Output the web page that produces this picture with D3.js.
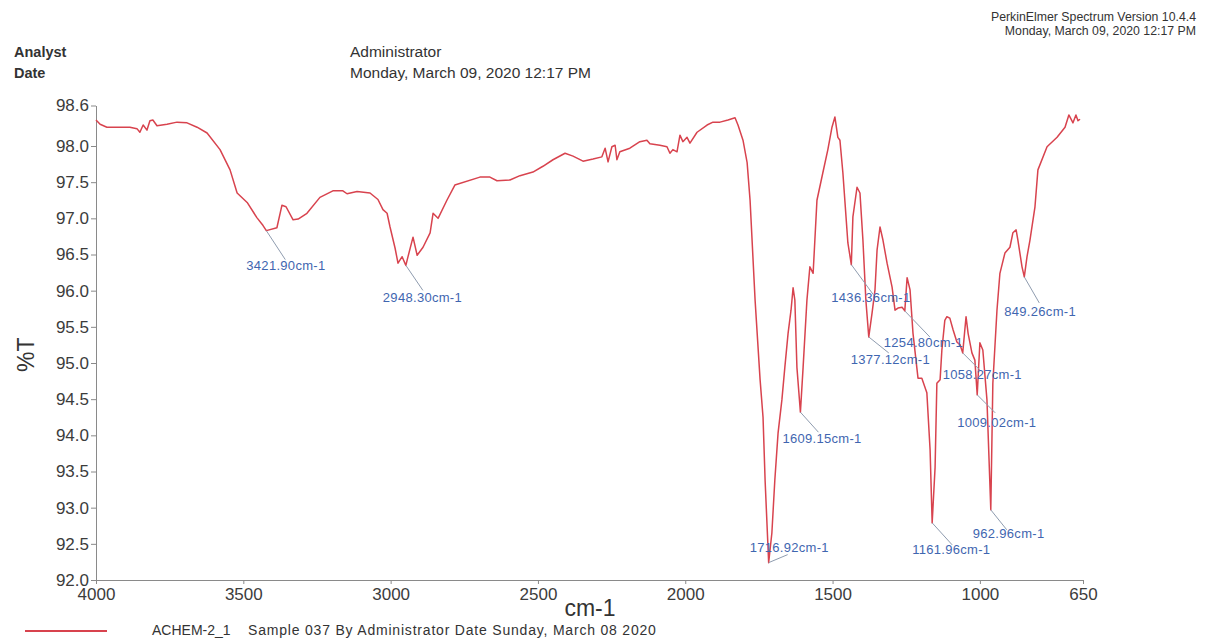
<!DOCTYPE html>
<html>
  <head>
    <meta charset="utf-8" />
    <title>IR Spectrum</title>
    <style>
      body {
        margin: 0;
        background: #fff;
      }
      svg text {
        font-family: "Liberation Sans", Arial, sans-serif;
      }
      .axis path,
      .axis line {
        stroke: #8a8a8a;
      }
      .axis text {
        fill: #3c3c3c;
        font-size: 17px;
      }
      .spectrum {
        fill: none;
        stroke: #d8434e;
        stroke-width: 1.5px;
        stroke-linejoin: round;
      }
      .peak-line {
        stroke: #8f9caf;
        stroke-width: 1px;
      }
      .peak-label {
        fill: #3f66b0;
        font-size: 13px;
        letter-spacing: 0.3px;
      }
    </style>
  </head>
  <body>
    <svg id="chart"></svg>

    <script src="https://d3js.org/d3.v7.min.js"></script>
    <script>
      // spectrum (cm-1, %T)
      const wavenumbers = [
        4000, 3986, 3963, 3885, 3861, 3851, 3840, 3827, 3817, 3807,
        3793, 3759, 3725, 3691, 3657, 3623, 3579, 3545, 3521, 3487,
        3454, 3433, 3421.9, 3386, 3369, 3355, 3331, 3314, 3284, 3240,
        3196, 3162, 3148, 3114, 3070, 3043, 3026, 3012, 3002, 2985,
        2975, 2961, 2948.3, 2941, 2924, 2910, 2890, 2866, 2856, 2839,
        2809, 2782, 2697, 2663, 2639, 2595, 2561, 2517, 2483, 2449,
        2408, 2381, 2347, 2313, 2283, 2272, 2262, 2249, 2238, 2232,
        2222, 2188, 2154, 2130, 2120, 2086, 2062, 2052, 2042, 2028,
        2018, 2008, 1994, 1984, 1960, 1926, 1906, 1882, 1855, 1831,
        1821, 1804, 1790, 1780, 1763, 1746, 1736, 1729, 1716.92, 1706,
        1696, 1685, 1672, 1662, 1651, 1641, 1634, 1628, 1621, 1609.15,
        1600, 1587, 1577, 1566, 1553, 1533, 1516, 1502, 1492, 1482,
        1475, 1465, 1448, 1436.36, 1431, 1417, 1407, 1397, 1387, 1377.12,
        1366, 1356, 1349, 1339, 1329, 1315, 1298, 1288, 1278, 1264,
        1254.8, 1247, 1237, 1227, 1210, 1197, 1180, 1169, 1161.96, 1152,
        1146, 1135, 1129, 1119, 1112, 1102, 1091, 1078, 1067, 1058.27,
        1047, 1040, 1027, 1017, 1009.02, 1000, 990, 976, 962.96, 956,
        942, 932, 915, 898, 888, 877, 871, 857, 849.26, 840,
        830, 813, 803, 772, 738, 711, 698, 684, 674, 667, 660
      ];
      const transmittance = [
        98.36, 98.30, 98.26, 98.26, 98.24, 98.19, 98.29, 98.22, 98.35, 98.36,
        98.28, 98.30, 98.33, 98.32, 98.26, 98.18, 97.95, 97.67, 97.35, 97.22,
        97.01, 96.90, 96.83, 96.87, 97.18, 97.16, 96.98, 96.99, 97.07, 97.29,
        97.38, 97.38, 97.34, 97.37, 97.35, 97.26, 97.12, 97.07, 96.88, 96.59,
        96.38, 96.47, 96.35, 96.47, 96.74, 96.49, 96.60, 96.80, 97.07, 97.00,
        97.25, 97.46, 97.57, 97.57, 97.52, 97.53, 97.59, 97.64, 97.72, 97.81,
        97.90, 97.86, 97.79, 97.82, 97.85, 97.97, 97.78, 97.99, 98.01, 97.81,
        97.92, 97.97, 98.06, 98.08, 98.03, 98.01, 97.99, 97.90, 97.95, 97.92,
        98.15, 98.06, 98.12, 98.04, 98.19, 98.29, 98.33, 98.33, 98.36, 98.39,
        98.29, 98.08, 97.77, 97.25, 95.87, 94.77, 94.25, 93.38, 92.24, 92.65,
        93.38, 94.03, 94.49, 94.94, 95.41, 95.73, 96.04, 95.87, 94.94, 94.32,
        94.94, 95.87, 96.33, 96.24, 97.25, 97.63, 97.95, 98.26, 98.40, 98.12,
        98.08, 97.63, 96.66, 96.36, 97.02, 97.43, 97.35, 96.70, 95.87, 95.36,
        95.69, 96.01, 96.56, 96.88, 96.70, 96.38, 96.05, 95.73, 95.76, 95.77,
        95.72, 96.18, 96.01, 95.41, 94.79, 94.79, 94.59, 93.80, 92.79, 93.56,
        94.72, 94.77, 95.18, 95.59, 95.64, 95.62, 95.46, 95.29, 95.25, 95.14,
        95.64, 95.41, 95.14, 95.04, 94.56, 95.28, 95.18, 94.49, 92.97, 94.72,
        95.73, 96.24, 96.52, 96.60, 96.80, 96.84, 96.70, 96.33, 96.19, 96.47,
        96.70, 97.16, 97.67, 97.99, 98.12, 98.26, 98.43, 98.32, 98.43, 98.35, 98.37
      ];

      // labelled peaks
      const peakWavenumbers = [
        3421.9, 2948.3, 1716.92, 1609.15, 1436.36, 1377.12,
        1254.8, 1161.96, 1058.27, 1009.02, 962.96, 849.26
      ];

      // axis ticks and text
      const xTickValues = [4000, 3500, 3000, 2500, 2000, 1500, 1000, 650];
      const yTickValues = [92.0, 92.5, 93.0, 93.5, 94.0, 94.5, 95.0, 95.5, 96.0, 96.5, 97.0, 97.5, 98.0, 98.56];
      const xTitle = "cm-1";
      const yTitle = "%T";
      const headerLeft = [["Analyst", "Administrator"], ["Date", "Monday, March 09, 2020 12:17 PM"]];
      const headerRight = ["PerkinElmer Spectrum Version 10.4.4", "Monday, March 09, 2020 12:17 PM"];
      const legendName = "ACHEM-2_1";
      const legendDesc = "Sample 037 By Administrator Date Sunday, March 08 2020";

      // where each peak label sits relative to its peak: [leader dx, leader dy, text dx, text dy]
      const labelOffsets = [
        [19, 29, -20, 39], [17, 25, -23, 37], [19, -8, -19, -11], [18, 20, -18, 31],
        [22, 30, -20, 37], [20, 16, -18, 27], [25, 26, -21, 36], [20, 22, -20, 31],
        [17, 17, -20, 26], [18, 18, -20, 32], [16, 20, -18, 28], [15, 26, -20, 39]
      ];

      const width = 1212;
      const height = 638;
      const plot = { left: 96, right: 1083, top: 105.5, bottom: 580 };

      const svg = d3.select("#chart").attr("width", width).attr("height", height);

      const x = d3.scaleLinear().domain([4000, 650]).range([plot.left, plot.right]);
      const y = d3.scaleLinear().domain([92, 98.56]).range([plot.bottom, plot.top]);

      const data = wavenumbers.map((w, i) => ({ w: w, t: transmittance[i] }));

      // header text
      headerLeft.forEach((row, i) => {
        svg.append("text")
          .attr("x", 14).attr("y", 57 + i * 20.5)
          .attr("font-size", 14.5).attr("font-weight", "bold").attr("fill", "#333")
          .text(row[0]);
        svg.append("text")
          .attr("x", 350).attr("y", 57 + i * 20.5)
          .attr("font-size", 15.5).attr("fill", "#333")
          .text(row[1]);
      });
      headerRight.forEach((t, i) => {
        svg.append("text")
          .attr("x", 1196).attr("y", 21 + i * 14)
          .attr("text-anchor", "end")
          .attr("font-size", 12.3).attr("fill", "#333")
          .text(t);
      });

      // axes
      svg.append("g")
        .attr("class", "axis")
        .attr("transform", `translate(${plot.left},0)`)
        .call(d3.axisLeft(y).tickValues(yTickValues).tickFormat(d3.format(".1f")).tickSize(5).tickSizeOuter(0).tickPadding(2));

      svg.append("g")
        .attr("class", "axis")
        .attr("transform", `translate(0,${plot.bottom})`)
        .call(d3.axisBottom(x).tickValues(xTickValues).tickFormat(d3.format("d")).tickSize(4).tickSizeOuter(0).tickPadding(4));

      svg.append("text")
        .attr("transform", `translate(34,${(plot.top + plot.bottom) / 2 + 12}) rotate(-90)`)
        .attr("text-anchor", "middle")
        .attr("font-size", 23).attr("fill", "#333")
        .text(yTitle);

      svg.append("text")
        .attr("x", 590).attr("y", 616)
        .attr("text-anchor", "middle")
        .attr("font-size", 23).attr("fill", "#333")
        .text(xTitle);

      // spectrum
      const line = d3.line().x((d) => x(d.w)).y((d) => y(d.t));
      svg.append("path").datum(data).attr("class", "spectrum").attr("d", line);

      // peak labels
      const fmt = d3.format(".2f");
      peakWavenumbers.forEach((w, i) => {
        const p = data.find((d) => d.w === w);
        const px = x(p.w);
        const py = y(p.t);
        const o = labelOffsets[i];
        svg.append("line")
          .attr("class", "peak-line")
          .attr("x1", px).attr("y1", py)
          .attr("x2", px + o[0]).attr("y2", py + o[1]);
        svg.append("text")
          .attr("class", "peak-label")
          .attr("x", px + o[2]).attr("y", py + o[3])
          .text(fmt(w) + "cm-1");
      });

      // legend
      svg.append("line")
        .attr("x1", 25).attr("x2", 107).attr("y1", 631).attr("y2", 631)
        .attr("stroke", "#d8434e").attr("stroke-width", 2);
      svg.append("text")
        .attr("x", 152).attr("y", 635)
        .attr("font-size", 14).attr("fill", "#333")
        .text(legendName);
      svg.append("text")
        .attr("x", 248).attr("y", 635)
        .attr("font-size", 14).attr("letter-spacing", 0.8).attr("fill", "#333")
        .text(legendDesc);
    </script>
  </body>
</html>
